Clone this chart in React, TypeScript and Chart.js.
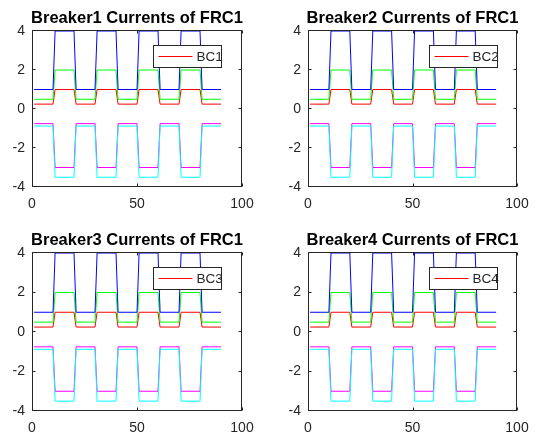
import React, { useEffect, useRef } from "react";
import { Chart, registerables } from "chart.js";

Chart.register(...registerables);

// ---- data ----
const timeX = [1, 10, 11, 20, 21, 30, 31, 40, 41, 50, 51, 60, 61, 70, 71, 80, 81, 90];
const currentRed = [0.25, 0.25, 1, 1, 0.25, 0.25, 1, 1, 0.25, 0.25, 1, 1, 0.25, 0.25, 1, 1, 0.25, 0.25];
const currentGreen = [0.5, 0.5, 2, 2, 0.5, 0.5, 2, 2, 0.5, 0.5, 2, 2, 0.5, 0.5, 2, 2, 0.5, 0.5];
const currentBlue = [1, 1, 4, 4, 1, 1, 4, 4, 1, 1, 4, 4, 1, 1, 4, 4, 1, 1];
const currentMagenta = [-0.75, -0.75, -3, -3, -0.75, -0.75, -3, -3, -0.75, -0.75, -3, -3, -0.75, -0.75, -3, -3, -0.75, -0.75];
const currentCyan = [-0.875, -0.875, -3.5, -3.5, -0.875, -0.875, -3.5, -3.5, -0.875, -0.875, -3.5, -3.5, -0.875, -0.875, -3.5, -3.5, -0.875, -0.875];

const breakerTitles = [
  "Breaker1 Currents of FRC1",
  "Breaker2 Currents of FRC1",
  "Breaker3 Currents of FRC1",
  "Breaker4 Currents of FRC1",
];
const legendLabels = ["BC1", "BC2", "BC3", "BC4"];
const xTickValues = [0, 50, 100];
const yTickValues = [-4, -2, 0, 2, 4];

const seriesList = [
  { values: currentRed, color: "#ff0000" },
  { values: currentGreen, color: "#00ff00" },
  { values: currentBlue, color: "#0000ff" },
  { values: currentMagenta, color: "#ff00ff" },
  { values: currentCyan, color: "#00ffff" },
];

const FONT = "'Liberation Sans', Arial, Helvetica, sans-serif";
const AXIS_COLOR = "#262626";

// subplot placement (canvas left/top, plot width/height)
const panels = [
  { left: 0, top: 0, w: 210, h: 156 },
  { left: 276, top: 0, w: 209, h: 156 },
  { left: 0, top: 222, w: 210, h: 158 },
  { left: 276, top: 222, w: 209, h: 158 },
];
const OFF_L = 32;
const OFF_T = 31;
const PAD_R = 26;
const OFF_B = 31;

const matlabPlugin = {
  id: "matlabBox",
  afterDatasetsDraw(chart: any, _args: any, opts: any) {
    const ctx = chart.ctx;
    const a = chart.chartArea;
    const xs = chart.scales.x;
    const ys = chart.scales.y;
    ctx.save();
    // box
    ctx.strokeStyle = AXIS_COLOR;
    ctx.lineWidth = 1;
    const L = Math.round(a.left) + 0.5;
    const R = Math.round(a.right) - 0.5;
    const T = Math.round(a.top) - 0.5;
    const B = Math.round(a.bottom) - 0.5;
    ctx.strokeRect(L, T, R - L, B - T);
    // inward ticks on all sides
    const tl = 3;
    ctx.beginPath();
    xs.ticks.forEach((t: any) => {
      const px = Math.round(xs.getPixelForValue(t.value)) + 0.5;
      ctx.moveTo(px, B);
      ctx.lineTo(px, B - tl);
      ctx.moveTo(px, T);
      ctx.lineTo(px, T + tl);
    });
    ys.ticks.forEach((t: any) => {
      const py = Math.round(ys.getPixelForValue(t.value)) - 0.5;
      ctx.moveTo(L, py);
      ctx.lineTo(L + tl, py);
      ctx.moveTo(R, py);
      ctx.lineTo(R - tl, py);
    });
    ctx.stroke();
    // title
    ctx.fillStyle = "#000000";
    ctx.font = `bold 16.5px ${FONT}`;
    ctx.textAlign = "center";
    ctx.textBaseline = "middle";
    ctx.fillText(opts.title, (a.left + a.right) / 2, a.top - 13);
    // legend (first dataset)
    const ds = chart.data.datasets[0];
    const lx = Math.round(a.left + 121) + 0.5;
    const ly = Math.round(a.top + 14) + 0.5;
    const lw = 68;
    const lh = 22;
    ctx.fillStyle = "#ffffff";
    ctx.fillRect(lx, ly, lw, lh);
    ctx.strokeStyle = AXIS_COLOR;
    ctx.strokeRect(lx, ly, lw, lh);
    ctx.strokeStyle = ds.borderColor;
    ctx.beginPath();
    ctx.moveTo(lx + 5, ly + lh / 2);
    ctx.lineTo(lx + 39, ly + lh / 2);
    ctx.stroke();
    ctx.fillStyle = AXIS_COLOR;
    ctx.font = `13.5px ${FONT}`;
    ctx.textAlign = "left";
    ctx.textBaseline = "middle";
    ctx.fillText(ds.label, lx + 43, ly + lh / 2 + 0.5);
    ctx.restore();
  },
};

function Panel({ idx }: { idx: number }) {
  const ref = useRef<HTMLCanvasElement | null>(null);
  const p = panels[idx];
  const cw = OFF_L + p.w + PAD_R;
  const ch = OFF_T + p.h + OFF_B;
  useEffect(() => {
    if (!ref.current) return;
    const datasets = seriesList.map((s, i) => ({
      label: i === 0 ? legendLabels[idx] : `series${i + 1}`,
      data: timeX.map((x, j) => ({ x, y: s.values[j] })),
      borderColor: s.color,
      backgroundColor: s.color,
      borderWidth: 1,
      pointRadius: 0,
      tension: 0,
      fill: false,
      clip: false as any,
      order: seriesList.length - i,
    }));
    const tickFont = { family: FONT, size: 14 };
    const chart = new Chart(ref.current, {
      type: "line",
      data: { datasets },
      plugins: [matlabPlugin],
      options: {
        animation: false,
        responsive: false,
        maintainAspectRatio: false,
        events: [],
        layout: { padding: { top: OFF_T, right: PAD_R, left: 0, bottom: 0 } },
        plugins: {
          legend: { display: false },
          tooltip: { enabled: false },
          title: { display: false },
          matlabBox: { title: breakerTitles[idx] },
        } as any,
        scales: {
          x: {
            type: "linear",
            min: 0,
            max: 100,
            afterBuildTicks: (s: any) => {
              s.ticks = xTickValues.map((v) => ({ value: v }));
            },
            afterFit: (s: any) => {
              s.height = OFF_B;
            },
            grid: { display: false, drawTicks: false },
            border: { display: false },
            ticks: {
              font: tickFont,
              color: AXIS_COLOR,
              padding: 9,
              maxRotation: 0,
              autoSkip: false,
            },
          },
          y: {
            type: "linear",
            min: -4,
            max: 4,
            afterBuildTicks: (s: any) => {
              s.ticks = yTickValues.map((v) => ({ value: v }));
            },
            afterFit: (s: any) => {
              s.width = OFF_L;
            },
            grid: { display: false, drawTicks: false },
            border: { display: false },
            ticks: {
              font: tickFont,
              color: AXIS_COLOR,
              padding: 7,
              autoSkip: false,
            },
          },
        },
      } as any,
    });
    return () => chart.destroy();
  }, [idx]);
  return (
    <canvas
      ref={ref}
      width={cw}
      height={ch}
      style={{ position: "absolute", left: p.left, top: p.top, width: cw, height: ch }}
    />
  );
}

export default function App() {
  return (
    <div
      style={{
        position: "fixed",
        left: 0,
        top: 0,
        width: 536,
        height: 435,
        background: "#ffffff",
        overflow: "hidden",
      }}
    >
      {panels.map((_, i) => (
        <Panel key={i} idx={i} />
      ))}
    </div>
  );
}
